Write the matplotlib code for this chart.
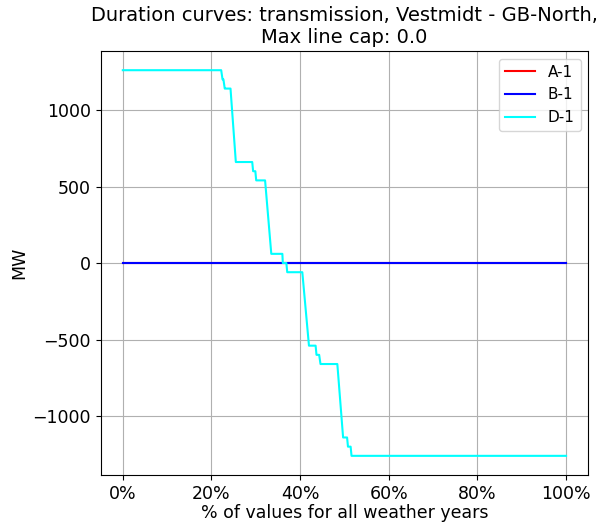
import numpy as np
import matplotlib
matplotlib.use('Agg')
import matplotlib.pyplot as plt
from matplotlib.ticker import PercentFormatter

# duration curve breakpoints (% of values, MW)
pct_d1 = [0, 22.2, 22.5, 22.7, 23.0, 23.1, 24.3, 25.5, 29.2, 29.4, 29.9, 30.1, 32.1,
          33.5, 36.0, 36.1, 36.9, 37.1, 40.5, 42.0, 43.5, 43.7, 44.3, 44.6, 48.4,
          49.7, 50.6, 50.8, 51.4, 51.6, 100]
mw_d1 = [1260, 1260, 1200, 1200, 1140, 1140, 1140, 660, 660, 600, 600, 540, 540,
         60, 60, 0, 0, -60, -60, -540, -540, -600, -600, -660, -660,
         -1140, -1140, -1200, -1200, -1260, -1260]

pct_flat = [0, 100]
mw_a1 = [0, 0]
mw_b1 = [0, 0]

fig = plt.figure(figsize=(5.99, 5.25), dpi=100)
ax = fig.add_axes([0.168, 0.095, 0.814, 0.808])

ax.plot(pct_flat, mw_a1, color='red', lw=1.5, label='A-1')
ax.plot(pct_flat, mw_b1, color='blue', lw=1.5, label='B-1')
ax.plot(pct_d1, mw_d1, color='cyan', lw=1.5, label='D-1')

ax.xaxis.set_major_formatter(PercentFormatter(decimals=0))
ax.set_xticks([0, 20, 40, 60, 80, 100])
ax.set_yticks([-1000, -500, 0, 500, 1000])
ax.tick_params(labelsize=12.5)
ax.grid(True)
ax.set_xlabel('% of values for all weather years', fontsize=12.5, labelpad=1)
ax.set_ylabel('MW', fontsize=12.5, labelpad=3)
ax.set_title('Duration curves: transmission, Vestmidt - GB-North,\nMax line cap: 0.0', fontsize=14)
ax.legend(loc='upper right', fontsize=11)

fig.savefig('out.png', dpi=100)
